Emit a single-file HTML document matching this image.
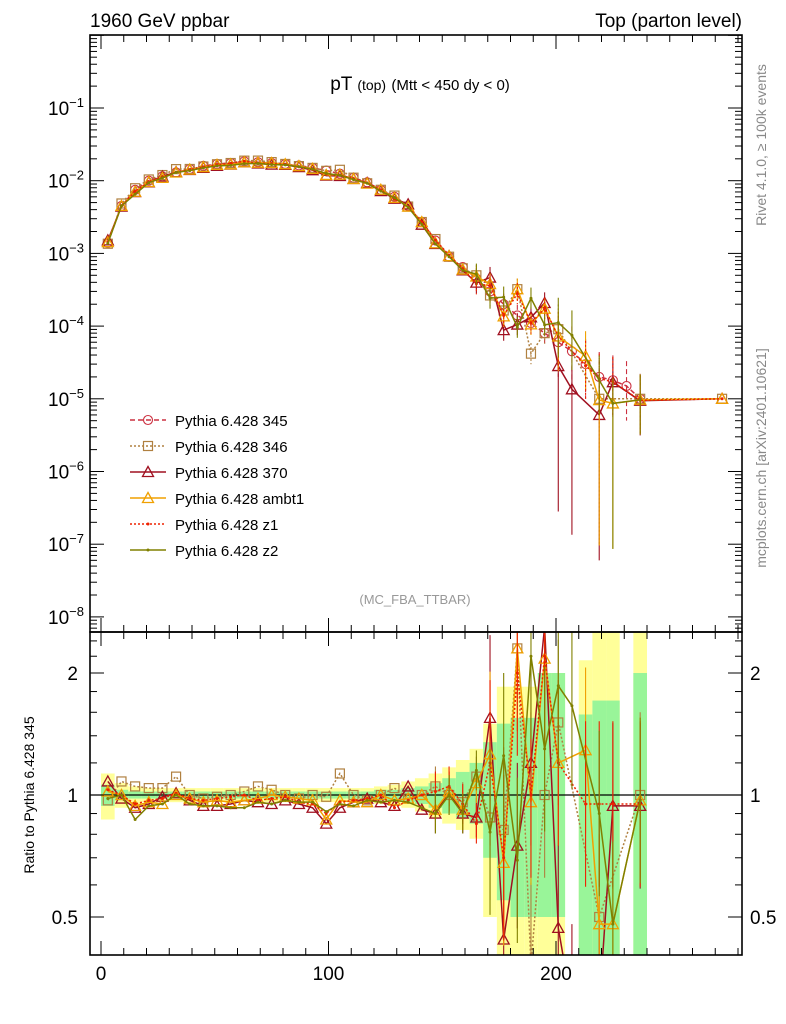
<!DOCTYPE html>
<html><head><meta charset="utf-8"><style>
html,body{margin:0;padding:0;background:#fff;overflow:hidden}
svg{font-family:"Liberation Sans",sans-serif;display:block}
</style></head><body>
<svg id="c" width="786" height="1024" xmlns="http://www.w3.org/2000/svg">
<rect width="786" height="1024" fill="#fff"/>
<g id="bands"></g><g id="marks"></g><g id="axes"></g>
<text x="90" y="27" font-size="19">1960 GeV ppbar</text>
<text x="742" y="27" font-size="19" text-anchor="end">Top (parton level)</text>
<text x="420" y="90" font-size="19" text-anchor="middle">pT <tspan font-size="14">(top)</tspan> <tspan font-size="15">(Mtt &lt; 450 dy &lt; 0)</tspan></text>
<text x="415" y="604" font-size="13" fill="#999" text-anchor="middle">(MC_FBA_TTBAR)</text>
<text transform="translate(766,145) rotate(-90)" font-size="14" fill="#888" text-anchor="middle">Rivet 4.1.0, ≥ 100k events</text>
<text transform="translate(766,458) rotate(-90)" font-size="14" fill="#888" text-anchor="middle">mcplots.cern.ch [arXiv:2401.10621]</text>
<text transform="translate(34,795) rotate(-90)" font-size="14" text-anchor="middle">Ratio to Pythia 6.428 345</text>
<g id="legend"></g>
</svg>
<script>
const xCenters=[3,9,15,21,27,33,39,45,51,57,63,69,75,81,87,93,99,105,111,117,123,129,135,141,147,153,159,165,171,177,183,189,195,201,207,213,219,225,231,237,243,249,255,261,267,273];
const refValues=[1.4e-3,4.5e-3,7.5e-3,1.0e-2,1.15e-2,1.3e-2,1.45e-2,1.6e-2,1.7e-2,1.75e-2,1.85e-2,1.8e-2,1.75e-2,1.7e-2,1.62e-2,1.5e-2,1.38e-2,1.25e-2,1.1e-2,9.5e-3,7.5e-3,6e-3,4.5e-3,2.7e-3,1.5e-3,9e-4,6.5e-4,4.5e-4,3e-4,2e-4,1.4e-4,1.1e-4,8e-5,6e-5,4.5e-5,3e-5,2e-5,1.8e-5,1.5e-5,1e-5,1e-5,1e-5,1e-5,1e-5,1e-5,1e-5];
const ratio346=[0.97,1.08,1.05,1.04,1.04,1.11,1.0,0.98,0.99,1.0,1.02,1.05,1.03,1.0,0.98,1.0,0.99,1.13,1.0,0.97,1.0,1.04,0.98,1.0,1.05,1.0,0.96,1.11,0.88,0.82,2.3,0.38,1.0,1.51,null,null,0.5,null,null,1.0,null,null,null,null,null,1.0];
const ratio370=[1.08,0.98,0.93,0.95,0.99,1.01,0.97,0.94,0.94,0.95,0.97,0.96,0.95,0.97,0.95,0.93,0.85,0.93,0.96,0.98,0.96,0.94,1.05,0.92,0.9,1.02,0.90,0.88,1.55,0.44,0.75,1.2,2.6,0.47,0.3,null,0.3,0.94,null,0.94,null,null,null,null,null,1.0];
const ratioAmbt1=[1.02,1.0,0.94,0.96,0.95,1.0,0.98,0.96,0.97,0.96,0.97,0.98,1.0,0.99,0.98,0.97,0.87,0.97,0.96,0.96,1.0,0.97,0.98,1.0,0.92,1.02,0.92,1.07,1.26,0.68,2.3,0.96,2.17,1.2,null,1.29,0.48,0.48,null,0.97,null,null,null,null,null,1.0];
const ratioZ1=[1.03,1.0,0.95,0.97,0.98,1.01,0.98,0.97,0.98,0.99,1.0,0.97,0.98,0.99,0.96,0.95,0.9,0.96,0.97,0.98,1.0,0.93,0.97,1.0,1.02,1.05,0.95,0.85,1.2,0.7,2.0,1.0,2.2,1.2,null,0.95,0.95,0.95,null,0.95,null,null,null,null,null,1.0];
const ratioZ2=[0.98,1.0,0.87,0.94,0.95,1.0,0.95,0.94,0.94,0.93,0.93,0.96,0.95,0.97,0.96,0.96,0.91,0.95,0.94,0.97,0.96,0.97,0.96,0.93,0.9,1.0,0.9,1.15,0.81,1.25,0.69,2.2,1.3,1.86,1.66,null,0.9,0.48,null,0.97,null,null,null,null,null,null];
const ratio345=[1,1,1,1,1,1,1,1,1,1,1,1,1,1,1,1,1,1,1,1,1,1,1,1,1,1,1,1,1,1,1,1,1,1,1,1,1,1,1,1,null,null,null,null,null,null];
const bandYellowLo=[0.87,0.93,0.95,0.96,0.96,0.96,0.96,0.96,0.96,0.96,0.96,0.96,0.96,0.96,0.96,0.96,0.96,0.96,0.96,0.96,0.95,0.94,0.93,0.91,0.88,0.85,0.82,0.78,0.5,0.35,0.35,0.35,0.35,0.35,null,0.3,0.3,0.3,null,0.3];
const bandYellowHi=[1.13,1.07,1.05,1.04,1.04,1.04,1.04,1.04,1.04,1.04,1.04,1.04,1.04,1.04,1.04,1.04,1.04,1.04,1.04,1.04,1.05,1.06,1.08,1.1,1.13,1.17,1.22,1.3,1.5,1.85,1.85,1.85,2.0,2.0,null,2.15,2.6,2.6,null,2.6];
const bandGreenLo=[0.94,0.97,0.98,0.98,0.98,0.98,0.98,0.98,0.98,0.98,0.98,0.98,0.98,0.98,0.98,0.98,0.98,0.98,0.98,0.98,0.97,0.97,0.96,0.95,0.93,0.9,0.88,0.85,0.7,0.55,0.5,0.5,0.5,0.5,null,0.3,0.3,0.3,null,0.3];
const bandGreenHi=[1.06,1.03,1.02,1.02,1.02,1.02,1.02,1.02,1.02,1.02,1.02,1.02,1.02,1.02,1.02,1.02,1.02,1.02,1.02,1.02,1.03,1.03,1.04,1.05,1.07,1.1,1.14,1.2,1.35,1.5,1.55,1.55,2.0,2.0,null,1.58,1.71,1.71,null,2.0];
const mainYTicks=["-1","-2","-3","-4","-5","-6","-7","-8"];
const ratioTicks=[["2",2],["1",1],["0.5",0.5]];
const xTicks=[0,100,200];
const seriesNames=["Pythia 6.428 345","Pythia 6.428 346","Pythia 6.428 370","Pythia 6.428 ambt1","Pythia 6.428 z1","Pythia 6.428 z2"];

const NS="http://www.w3.org/2000/svg";
const X0=90,X1=742,MT=35,MB=632,RT=632,RB=955;
const px=x=>101+2.275*x;
const py=v=>108-72.7*(Math.log10(v)+1);
const ry=r=>795-122*Math.log2(r);
function mk(tag,at,parent){const e=document.createElementNS(NS,tag);for(const k in at)e.setAttribute(k,at[k]);parent.appendChild(e);return e;}
const bands=document.getElementById('bands'),marks=document.getElementById('marks'),axes=document.getElementById('axes'),legend=document.getElementById('legend');
const defs=mk('defs',{},document.getElementById('c'));
const clipR=mk('clipPath',{id:'cr'},defs);mk('rect',{x:X0,y:RT,width:X1-X0,height:RB-RT},clipR);
const clipM=mk('clipPath',{id:'cm'},defs);mk('rect',{x:X0,y:MT,width:X1-X0,height:MB-MT},clipM);
const bg=mk('g',{'clip-path':'url(#cr)'},bands);
bandYellowLo.forEach((lo,i)=>{if(lo==null)return;const x=px(xCenters[i]-3);
 let r=mk('rect',{x:x,y:ry(bandYellowHi[i]),width:2.275*6,height:ry(lo)-ry(bandYellowHi[i]),fill:'#ffff99'},bg);
 
 
 let g=mk('rect',{x:x,y:ry(bandGreenHi[i]),width:2.275*6,height:ry(bandGreenLo[i])-ry(bandGreenHi[i]),fill:'#99f599'},bg);
 
 
});
mk('line',{x1:X0,x2:X1,y1:ry(1),y2:ry(1),stroke:'#000','stroke-width':1.3},bands);
const series=[
 {r:ratio345,col:'#cc3040',dash:'5,3',m:'circle',ratio:false},
 {r:ratio346,col:'#b08040',dash:'2,2',m:'square',ratio:true},
 {r:ratio370,col:'#a01020',dash:'',m:'triangle',ratio:true},
 {r:ratioAmbt1,col:'#f0a000',dash:'',m:'triangle',ratio:true},
 {r:ratioZ1,col:'#ee2200',dash:'2,2',m:'dot',ratio:true},
 {r:ratioZ2,col:'#808000',dash:'',m:'dot',ratio:true}];
function marker(m,x,y,col,g){
 const s=4.5;
 if(m=='circle')return mk('circle',{cx:x,cy:y,r:4.5,fill:'none',stroke:col,'stroke-width':1.1},g);
 if(m=='square')return mk('rect',{x:x-s,y:y-s,width:2*s,height:2*s,fill:'none',stroke:col,'stroke-width':1.2},g);
 if(m=='triangle')return mk('path',{d:`M${x},${y-s-1}L${x+s+1},${y+s}L${x-s-1},${y+s}Z`,fill:'none',stroke:col,'stroke-width':1.3},g);
 return mk('circle',{cx:x,cy:y,r:1.5,fill:col},g);
}
series.forEach((s,si)=>{
 const gm=mk('g',{'clip-path':'url(#cm)'},marks);
 
 
 const gr=mk('g',{'clip-path':'url(#cr)'},marks);
 
 
 let dm='',dr='';
 xCenters.forEach((xc,i)=>{
  const rv=s.r[i];
  if(rv==null)return;
  const v=refValues[i]*rv, x=px(xc), y=py(v);
  dm+=(dm?'L':'M')+x+','+y;
  marker(s.m,x,y,s.col,gm);
  if(i>=27&&i<40){const f=i>=33?(rv<0.6?100:3):1.4;mk('line',{x1:x,x2:x,y1:py(v*Math.min(f,2.2)),y2:py(v/f),stroke:s.col,'stroke-width':1.1,'stroke-dasharray':s.dash},gm);}
  if(i<40&&s.ratio){const yr=ry(rv);dr+=(dr?'L':'M')+x+','+yr;marker(s.m,x,yr,s.col,gr);
   if(i>=24){const e=i>=28?1.6:1.12;mk('line',{x1:x,x2:x,y1:ry(rv*e),y2:ry(rv/e),stroke:s.col,'stroke-width':1.1},gr);}}
 });
 mk('path',{d:dm,fill:'none',stroke:s.col,'stroke-width':1.5,'stroke-dasharray':s.dash},gm);
 if(dr)mk('path',{d:dr,fill:'none',stroke:s.col,'stroke-width':1.5,'stroke-dasharray':s.dash},gr);
 const ly=420+si*26;
 const le=mk('g',{},legend);
 
 
 mk('line',{x1:130,x2:166,y1:ly,y2:ly,stroke:s.col,'stroke-width':1.5,'stroke-dasharray':s.dash},le);
 marker(s.m,148,ly,s.col,le);
 const t=mk('text',{x:175,y:ly+6,'font-size':15},le);t.textContent=seriesNames[si];
});
mk('rect',{x:X0,y:MT,width:X1-X0,height:MB-MT,fill:'none',stroke:'#000','stroke-width':1.6},axes);
mk('rect',{x:X0,y:RT,width:X1-X0,height:RB-RT,fill:'none',stroke:'#000','stroke-width':1.6},axes);
for(let e=0;e>=-9;e--){for(let k=1;k<10;k++){const v=k*Math.pow(10,e),y=py(v);if(y<MT||y>MB)continue;const L=k==1?14:7;
 mk('line',{x1:X0,x2:X0+L,y1:y,y2:y,stroke:'#000'},axes);mk('line',{x1:X1-L,x2:X1,y1:y,y2:y,stroke:'#000'},axes);}}
mainYTicks.forEach((t,i)=>{const y=py(Math.pow(10,+t));const tx=mk('text',{x:84,y:y+7,'font-size':19,'text-anchor':'end'},axes);
 
 
 tx.innerHTML='10<tspan dy="-8" font-size="13">'+t.replace('-','−')+'</tspan>';});
[0.4,0.5,0.6,0.7,0.8,0.9,1,1.2,1.4,1.6,1.8,2,2.2,2.4].forEach(r=>{const y=ry(r);if(y<RT||y>RB)return;const L=(r==1||r==2||r==0.5)?14:7;
 mk('line',{x1:X0,x2:X0+L,y1:y,y2:y,stroke:'#000'},axes);mk('line',{x1:X1-L,x2:X1,y1:y,y2:y,stroke:'#000'},axes);});
ratioTicks.forEach(([t,r])=>{const y=ry(r)+7;
 const a=mk('text',{x:78,y:y,'font-size':19,'text-anchor':'end'},axes);a.textContent=t;
 const b=mk('text',{x:750,y:y,'font-size':19},axes);b.textContent=t;});
for(let x=0;x<=280;x+=10){const X=px(x),L=x%100==0?14:7;
 mk('line',{x1:X,x2:X,y1:RB,y2:RB-L,stroke:'#000'},axes);mk('line',{x1:X,x2:X,y1:RT,y2:RT+L,stroke:'#000'},axes);
 mk('line',{x1:X,x2:X,y1:MB,y2:MB-L,stroke:'#000'},axes);mk('line',{x1:X,x2:X,y1:MT,y2:MT+L,stroke:'#000'},axes);}
xTicks.forEach(x=>{const t=mk('text',{x:px(x),y:980,'font-size':19,'text-anchor':'middle'},axes);
 
 
 t.textContent=x;});
</script>
</body></html>
